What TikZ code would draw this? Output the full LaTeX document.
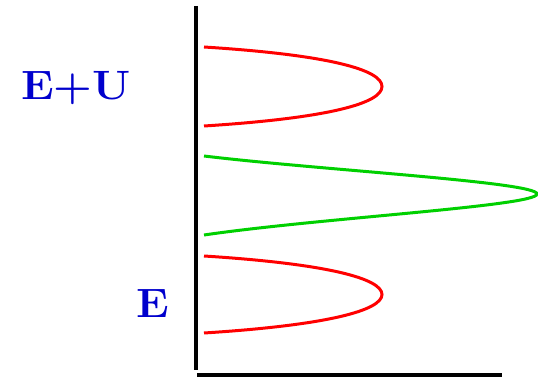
\documentclass[tikz,border=0pt]{standalone}
\usetikzlibrary{calc}
\definecolor{lblblue}{RGB}{0,0,205}
\definecolor{pkred}{RGB}{255,0,0}
\definecolor{pkgreen}{RGB}{0,208,0}
\begin{document}
\begin{tikzpicture}[x=1pt,y=-1pt,
  axisline/.style={line width=4pt,black},
  redpeak/.style={line width=3pt,pkred},
  greenpeak/.style={line width=3pt,pkgreen},
  lbl/.style={text=lblblue,font=\fontsize{41}{41}\selectfont\bfseries,inner sep=0pt,anchor=base}]
\useasboundingbox (0,0) rectangle (538,379);
% axes
\coordinate (ytop) at (196,6);
\coordinate (ybot) at (196,370);
\coordinate (xl) at (197,375);
\coordinate (xr) at (502,375);
\draw[axisline] (ytop) -- (ybot);
\draw[axisline] (xl) -- (xr);
% upper red peak
\coordinate (r1s) at (204,47);
\coordinate (r1t) at (382,86.5);
\coordinate (r1e) at (204,126);
\draw[redpeak] (r1s) .. controls (330,55) and (382,70) .. (r1t)
  .. controls (382,103) and (330,118) .. (r1e);
% green peak
\coordinate (gs) at (204,156);
\coordinate (gt) at (537,194);
\coordinate (ge) at (204,235);
\draw[greenpeak] (gs) .. controls (320,170) and (537,182) .. (gt)
  .. controls (537,206) and (320,218) .. (ge);
% lower red peak
\coordinate (r2s) at (204,256);
\coordinate (r2t) at (382,294.5);
\coordinate (r2e) at (204,333);
\draw[redpeak] (r2s) .. controls (330,264) and (382,279) .. (r2t)
  .. controls (382,310) and (330,325) .. (r2e);
% labels
\node[lbl] (eu) at (76,99.5) {\scalebox{1.08}[1]{E+U}};
\node[lbl] (e) at (152.5,317.5) {\scalebox{1.08}[1]{E}};
\end{tikzpicture}
\end{document}
